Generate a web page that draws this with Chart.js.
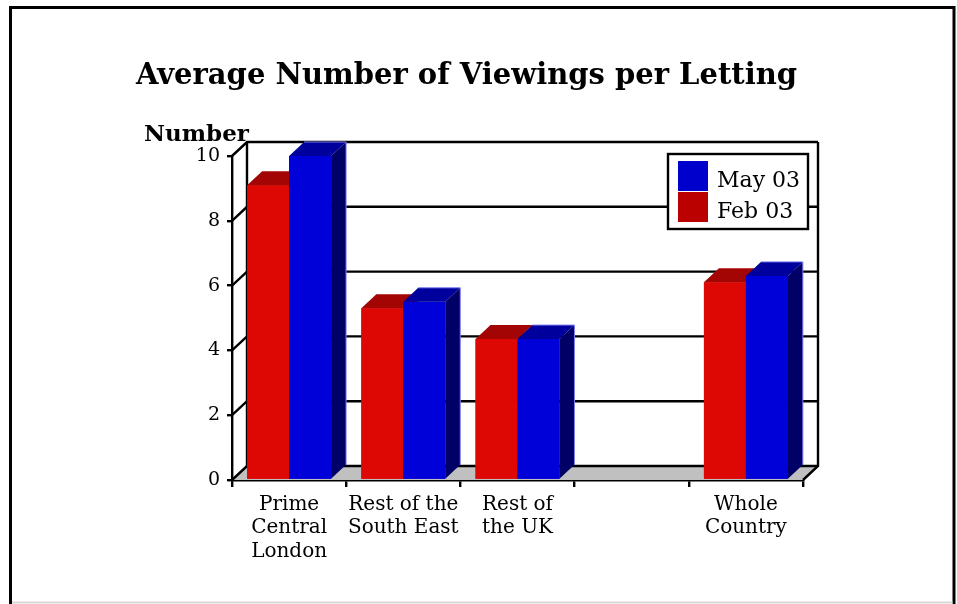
<!DOCTYPE html>
<html><head><meta charset="utf-8">
<script src="https://cdn.jsdelivr.net/npm/chart.js@4/dist/chart.umd.min.js"></script>
<style>html,body{margin:0;padding:0;background:#fff;}#wrap{width:957px;height:604px;}</style>
</head><body><div id="wrap"><canvas id="c" width="957" height="604"></canvas></div>
<script>
const categories = [["Prime","Central","London"],["Rest of the","South East"],["Rest of","the UK"],"",["Whole","Country"]];
const seriesNames = ["Feb 03","May 03"];
const feb03 = [9.1, 5.3, 4.35, null, 6.1];
const may03 = [10.0, 5.5, 4.35, null, 6.3];
const yTickValues = [0,2,4,6,8,10];
const titleText = "Average Number of Viewings per Letting";
const yAxisLabel = "Number";

const FONT = "'DejaVu Serif', serif";
const DX = 15, DY = -14;
const faceColors = [
  {front:'#DD0804', top:'#A30404', side:'#700000', legend:'#BB0000', edge:null},
  {front:'#0000D8', top:'#00009C', side:'#000066', legend:'#0000CC', edge:'#8080F0'}
];

const frame3d = {
  id:'frame3d',
  beforeDraw(chart){
    const ctx = chart.ctx;
    ctx.save();
    ctx.fillStyle = '#fff'; ctx.fillRect(0,0,chart.width,chart.height);
    ctx.strokeStyle = '#000'; ctx.lineWidth = 3;
    ctx.beginPath(); ctx.moveTo(10.5,604); ctx.lineTo(10.5,7.5); ctx.lineTo(954,7.5); ctx.lineTo(954,604); ctx.stroke();
    ctx.strokeStyle = '#d9d9d9'; ctx.lineWidth = 2;
    ctx.beginPath(); ctx.moveTo(12,602.5); ctx.lineTo(952.5,602.5); ctx.stroke();
    ctx.restore();
  },
  beforeDatasetsDraw(chart){
    const {ctx, chartArea:a, scales:{y}} = chart;
    const top = y.getPixelForValue(y.max), bot = y.getPixelForValue(y.min);
    ctx.save();
    ctx.fillStyle = '#C0C0C0';
    ctx.beginPath(); ctx.moveTo(a.left,bot); ctx.lineTo(a.right,bot); ctx.lineTo(a.right+DX,bot+DY); ctx.lineTo(a.left+DX,bot+DY); ctx.closePath(); ctx.fill();
    ctx.strokeStyle = '#000'; ctx.lineWidth = 2.4;
    yTickValues.forEach(v => {
      const py = y.getPixelForValue(v);
      ctx.beginPath(); ctx.moveTo(a.left,py); ctx.lineTo(a.left+DX,py+DY); ctx.lineTo(a.right+DX,py+DY); ctx.stroke();
    });
    ctx.beginPath(); ctx.moveTo(a.left+DX,bot+DY); ctx.lineTo(a.left+DX,top+DY); ctx.stroke();
    ctx.beginPath(); ctx.moveTo(a.right+DX,top+DY); ctx.lineTo(a.right+DX,bot+DY); ctx.lineTo(a.right,bot); ctx.stroke();
    ctx.restore();
  },
  afterDatasetsDraw(chart){
    const ctx = chart.ctx;
    ctx.save();
    chart.data.datasets.forEach((ds, i) => {
      const meta = chart.getDatasetMeta(i);
      const c = faceColors[i];
      meta.data.forEach((el, j) => {
        if (ds.data[j] === null || ds.data[j] === undefined) return;
        const p = el.getProps(['x','y','base','width'], true);
        const x0 = p.x - p.width/2, x1 = p.x + p.width/2, yt = p.y, yb = p.base;
        ctx.fillStyle = c.front;
        ctx.fillRect(x0, yt, x1-x0, yb-yt);
        ctx.fillStyle = c.top;
        ctx.beginPath(); ctx.moveTo(x0,yt); ctx.lineTo(x1,yt); ctx.lineTo(x1+DX,yt+DY); ctx.lineTo(x0+DX,yt+DY); ctx.closePath(); ctx.fill();
        ctx.fillStyle = c.side;
        ctx.beginPath(); ctx.moveTo(x1,yt); ctx.lineTo(x1+DX,yt+DY); ctx.lineTo(x1+DX,yb+DY); ctx.lineTo(x1,yb); ctx.closePath(); ctx.fill();
        if (c.edge) {
          ctx.strokeStyle = c.edge; ctx.lineWidth = 1;
          ctx.beginPath(); ctx.moveTo(x0+DX,yt+DY); ctx.lineTo(x1+DX,yt+DY); ctx.lineTo(x1+DX,yb+DY); ctx.stroke();
        }
      });
    });
    ctx.restore();
  },
  afterDraw(chart){
    const ctx = chart.ctx;
    ctx.save();
    ctx.fillStyle = '#000';
    ctx.font = "bold 23px " + FONT;
    ctx.textAlign = 'left'; ctx.textBaseline = 'alphabetic';
    ctx.fillText(yAxisLabel, 144, 141);
    const lx = 668, ly = 154, lw = 140, lh = 75;
    ctx.fillStyle = '#fff'; ctx.fillRect(lx, ly, lw, lh);
    ctx.strokeStyle = '#000'; ctx.lineWidth = 2.4; ctx.strokeRect(lx, ly, lw, lh);
    ctx.font = "22px " + FONT;
    const order = chart.data.datasets.map((d,i)=>i).reverse();
    order.forEach((di, k) => {
      const sy = 161 + k*31;
      ctx.fillStyle = faceColors[di].legend;
      ctx.fillRect(678, sy, 30, 30);
      ctx.fillStyle = '#000';
      ctx.fillText(chart.data.datasets[di].label, 717, sy + 26);
    });
    ctx.restore();
  }
};

new Chart(document.getElementById('c'), {
  type: 'bar',
  data: {
    labels: categories,
    datasets: [
      {label: seriesNames[0], data: feb03, backgroundColor: faceColors[0].front, borderWidth: 0},
      {label: seriesNames[1], data: may03, backgroundColor: faceColors[1].front, borderWidth: 0}
    ]
  },
  options: {
    responsive: false,
    devicePixelRatio: 1,
    animation: false,
    layout: {padding: {left: 0, right: 24, top: 0, bottom: 24}},
    datasets: {bar: {categoryPercentage: 0.735, barPercentage: 1.0}},
    plugins: {
      legend: {display: false},
      tooltip: {enabled: false},
      title: {
        display: true, text: titleText, color: '#000',
        font: {family: FONT, size: 29, weight: 'bold', lineHeight: 1.2},
        padding: {top: 59, bottom: 62.2}
      }
    },
    scales: {
      x: {
        offset: true, z: 1,
        grid: {display: true, offset: true, drawOnChartArea: false, drawTicks: true, tickLength: 7, color: '#000', lineWidth: 2.4},
        border: {display: true, color: '#000', width: 2.4},
        ticks: {color: '#000', font: {family: FONT, size: 20, lineHeight: 1.17}, padding: 6, maxRotation: 0, autoSkip: false},
        afterFit: s => { s.height = 100; }
      },
      y: {
        min: 0, max: 10, z: 1,
        afterBuildTicks: s => { s.ticks = yTickValues.map(v => ({value: v})); },
        grid: {display: true, drawOnChartArea: false, drawTicks: true, tickLength: 5, color: '#000', lineWidth: 2.4},
        border: {display: true, color: '#000', width: 2.4},
        ticks: {color: '#000', font: {family: FONT, size: 19}, padding: 7},
        afterFit: s => { s.width = 232; }
      },
      y2: {
        position: 'right', min: 0, max: 10, display: true,
        grid: {display: false, drawTicks: false}, border: {display: false},
        ticks: {display: false},
        afterFit: s => { s.width = 130; }
      }
    }
  },
  plugins: [frame3d]
});
</script></body></html>
